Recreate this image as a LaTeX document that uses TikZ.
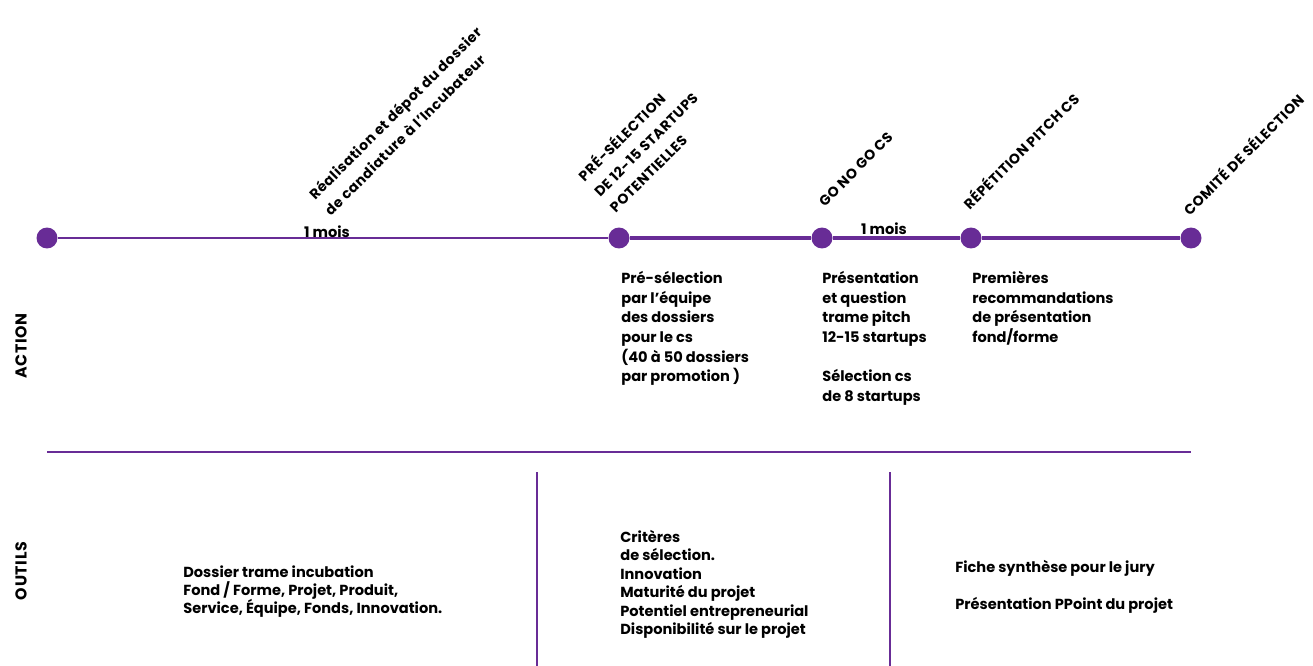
\documentclass[tikz,border=0pt]{standalone}
\usepackage{fontspec}
\setmainfont{Poppins}
\definecolor{violetfrise}{RGB}{104,44,150}
\begin{document}
\begin{tikzpicture}[x=0.02cm,y=-0.02cm]
	% Styles (MODIFIABLES)
	\tikzstyle{jalon}=[circle,fill=violetfrise,minimum size=0.42cm,inner sep=0pt]
	\tikzstyle{fin}=[-,draw=violetfrise,line width=1.1pt]
	\tikzstyle{epais}=[-,draw=violetfrise,line width=2.8pt]
	\tikzstyle{separation}=[-,draw=violetfrise,line width=0.7pt]
	\tikzstyle{titre}=[rotate=45,anchor=south west,align=left,inner sep=0pt,font=\bfseries\fontsize{8}{12.6}\selectfont\addfontfeature{LetterSpace=4}]
	\tikzstyle{action}=[anchor=north west,align=left,inner sep=0pt,font=\bfseries\fontsize{8.3}{11.2}\selectfont]
	\tikzstyle{outil}=[anchor=north west,align=left,inner sep=0pt,font=\bfseries\fontsize{8.3}{10.5}\selectfont]
	\tikzstyle{duree}=[anchor=base,inner sep=0pt,font=\bfseries\fontsize{8.3}{10}\selectfont]
	\tikzstyle{rubrique}=[rotate=90,inner sep=0pt,font=\bfseries\fontsize{9}{11}\selectfont\addfontfeature{LetterSpace=4}]
	% Dimensions (MODIFIABLES)
	\def\YFrise{238}
	\def\YSeparation{452}
	\useasboundingbox (0,0) rectangle (1313,666);
	% Jalons
	\node[jalon] (J0) at (47,\YFrise) {};
	\node[jalon] (J1) at (619,\YFrise) {};
	\node[jalon] (J2) at (822,\YFrise) {};
	\node[jalon] (J3) at (971,\YFrise) {};
	\node[jalon] (J4) at (1191,\YFrise) {};
	% Frise
	\draw[fin] (J0)--(J1);
	\draw[epais] (J1)--(J2);
	\draw[epais] (J2)--(J3);
	\draw[epais] (J3)--(J4);
	\node[duree] (D1) at (327,237) {1 mois};
	\node[duree] (D2) at (884,234) {1 mois};
	% Titres des jalons
	\node[titre] (T1) at (331,217) {Réalisation et dépot du dossier\\de candiature à l’Incubateur};
	\node[titre] (T2) at (616,214) {PRÉ-SÉLECTION\\DE 12-15 STARTUPS\\POTENTIELLES};
	\node[titre] (T3) at (825,208) {GO NO GO CS};
	\node[titre] (T4) at (970,211) {RÉPÉTITION PITCH CS};
	\node[titre] (T5) at (1190,217) {COMITÉ DE SÉLECTION};
	% Rubriques
	\node[rubrique] (R1) at (21,346) {ACTION};
	\node[rubrique] (R2) at (21,571) {OUTILS};
	% Separations
	\coordinate (S0) at (47,\YSeparation);
	\coordinate (S1) at (1191,\YSeparation);
	\coordinate (V1) at (537,472);
	\coordinate (V1b) at (537,666);
	\coordinate (V2) at (890,472);
	\coordinate (V2b) at (890,666);
	\draw[separation] (S0)--(S1);
	\draw[separation] (V1)--(V1b);
	\draw[separation] (V2)--(V2b);
	% Actions
	\node[action] (A1) at (621,271) {Pré-sélection\\par l’équipe\\des dossiers\\pour le cs\\(40 à 50 dossiers\\par promotion )};
	\node[action] (A2) at (822,271) {Présentation\\et question\\trame pitch\\12-15 startups\\[11.2pt]Sélection cs\\de 8 startups};
	\node[action] (A3) at (972,271) {Premières\\recommandations\\de présentation\\fond/forme};
	% Outils
	\node[outil] (O1) at (183,565) {Dossier trame incubation\\Fond / Forme, Projet, Produit,\\Service, Équipe, Fonds, Innovation.};
	\node[outil] (O2) at (620,530) {Critères\\de sélection.\\Innovation\\Maturité du projet\\Potentiel entrepreneurial\\Disponibilité sur le projet};
	\node[outil] (O3) at (955,560) {Fiche synthèse pour le jury\\[10.5pt]Présentation PPoint du projet};
\end{tikzpicture}
\end{document}
